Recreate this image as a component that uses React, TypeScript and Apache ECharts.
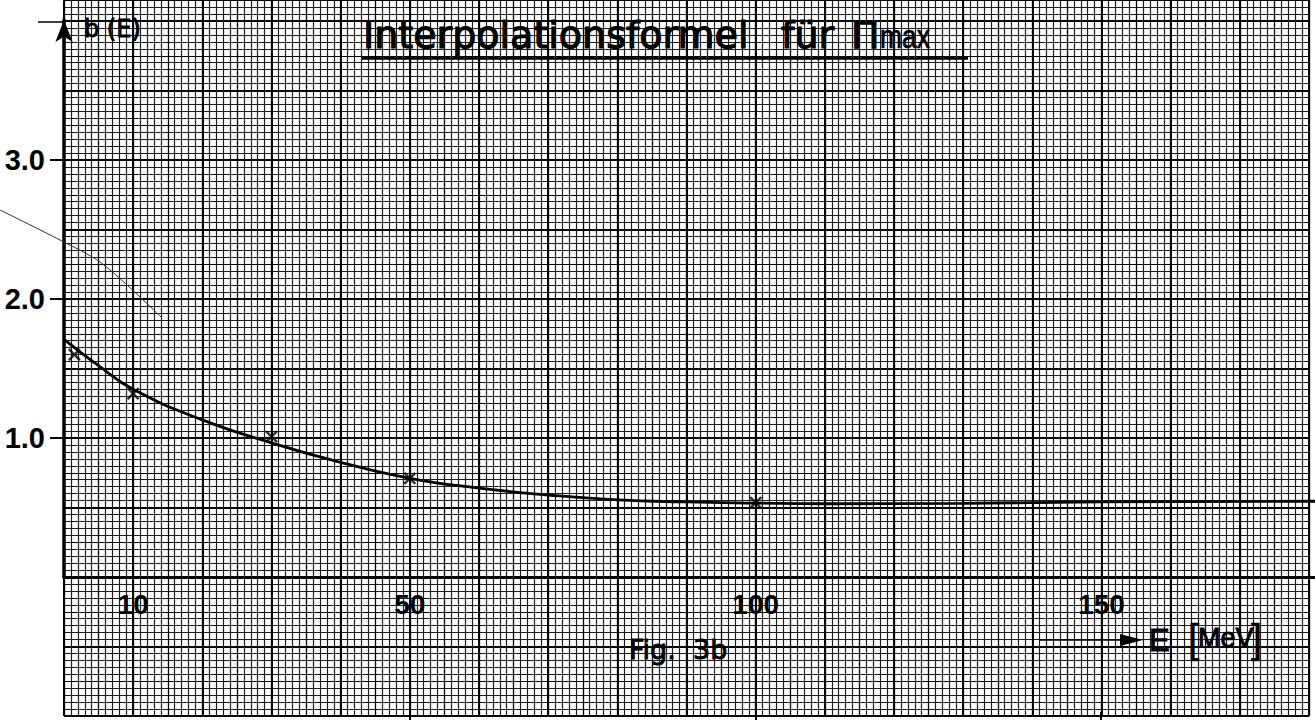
import React, { useEffect, useRef } from "react";
import * as echarts from "echarts";

// ---- data ----
const xTickValues = [10, 50, 100, 150];
const yTickValues = [1, 2, 3];
const pointE = [1.5, 10, 30, 50, 100];
const pointB = [1.6, 1.32, 1.01, 0.71, 0.535];
const curveE = [0, 5, 10, 20, 30, 40, 50, 60, 70, 80, 90, 100, 110, 130, 150, 181];
const curveB = [1.71, 1.52, 1.35, 1.13, 0.965, 0.825, 0.71, 0.64, 0.59, 0.555, 0.54, 0.532, 0.527, 0.53, 0.54, 0.545];

const titleMain = "Interpolationsformel";
const titleFor = "für";
const titlePi = "Π";
const titleSub = "max";
const yName = "b (E)";
const figText = "Fig.  3b";
const xName = "E";
const xUnit = "MeV";

const FONT_NUM = "'Liberation Sans', Arial, sans-serif";
const FONT_LET = "'DejaVu Sans', sans-serif";

function paperAxes(idx: number, interval: number, color: string, width: number) {
  const hidden = {
    axisLine: { show: false },
    axisTick: { show: false },
    axisLabel: { show: false },
  };
  return {
    x: {
      gridIndex: idx,
      type: "value",
      min: 0,
      max: 180,
      interval,
      ...hidden,
      splitLine: { show: true, lineStyle: { color, width } },
    },
    y: {
      gridIndex: idx,
      type: "value",
      min: -20,
      max: 83,
      interval,
      ...hidden,
      splitLine: { show: true, lineStyle: { color, width } },
    },
  };
}

function txt(x: number, y: number, text: string, font: string, size: number, extra: any = {}, thick = 1) {
  return {
    type: "text",
    x,
    y,
    z: 50,
    ...extra,
    style: {
      text,
      fontFamily: font,
      fontSize: size,
      fontWeight: "normal",
      fill: "#000",
      stroke: "#000",
      lineWidth: thick,
      align: "left",
      textAlign: "left",
      verticalAlign: "middle",
      textVerticalAlign: "middle",
    },
  };
}

export default function App() {
  const ref = useRef<HTMLDivElement>(null);
  useEffect(() => {
    if (!ref.current) return;
    const chart = echarts.init(ref.current, null, { renderer: "svg" });
    const p1 = paperAxes(0, 1, "#1e1e1e", 1.2);
    const p5 = paperAxes(1, 5, "#000", 1.15);
    const p10 = paperAxes(2, 10, "#000", 2);
    const paperGrid = { left: 64, top: 0.15, width: 1245.06, height: 715.85 };

    const option: any = {
      animation: false,
      backgroundColor: "#fff",
      grid: [
        { ...paperGrid },
        { ...paperGrid },
        { ...paperGrid },
        { left: 64, top: 20, width: 1251, height: 557 },
      ],
      xAxis: [
        p1.x,
        p5.x,
        p10.x,
        {
          gridIndex: 3,
          type: "value",
          min: 0,
          max: 180.86,
          splitLine: { show: false },
          axisLine: { show: true, onZero: false, lineStyle: { color: "#000", width: 3 } },
          axisTick: {
            show: true,
            customValues: xTickValues,
            length: 14,
            lineStyle: { color: "#000", width: 2 },
          },
          axisLabel: {
            show: true,
            customValues: xTickValues,
            margin: 13,
            fontFamily: FONT_NUM,
            fontWeight: "bold",
            fontSize: 28,
            color: "#000",
          },
        },
      ],
      yAxis: [
        p1.y,
        p5.y,
        p10.y,
        {
          gridIndex: 3,
          type: "value",
          min: 0,
          max: 4.007,
          splitLine: { show: false },
          axisLine: {
            show: true,
            onZero: false,
            symbol: ["none", "arrow"],
            symbolSize: [13, 22],
            lineStyle: { color: "#000", width: 3.5 },
          },
          axisTick: {
            show: true,
            customValues: yTickValues,
            length: 14,
            lineStyle: { color: "#000", width: 2 },
          },
          axisLabel: {
            show: true,
            customValues: yTickValues,
            margin: 19,
            formatter: (v: number) => v.toFixed(1),
            fontFamily: FONT_NUM,
            fontWeight: "bold",
            fontSize: 29,
            color: "#000",
          },
        },
      ],
      series: [
        {
          type: "line",
          xAxisIndex: 3,
          yAxisIndex: 3,
          data: curveE.map((e, i) => [e, curveB[i]]),
          smooth: true,
          showSymbol: false,
          lineStyle: { color: "#000", width: 2.8 },
          z: 10,
        },
        {
          type: "scatter",
          xAxisIndex: 3,
          yAxisIndex: 3,
          data: pointE.map((e, i) => [e, pointB[i]]),
          symbol: "path://M0 0L10 10M10 0L0 10",
          symbolSize: 11,
          itemStyle: { color: "none", borderColor: "#000", borderWidth: 2.5 },
          z: 11,
        },
      ],
      graphic: [
        txt(363, 35, titleMain, FONT_LET, 38, {}, 1.2),
        txt(781, 35, titleFor, FONT_LET, 38, {}, 1.2),
        txt(851, 35, titlePi, FONT_LET, 38, {}, 1.2),
        txt(880, 36, titleSub, FONT_NUM, 33, { scaleX: 0.8 }, 0.7),
        {
          type: "line",
          z: 50,
          shape: { x1: 362, y1: 58, x2: 968, y2: 58 },
          style: { stroke: "#000", lineWidth: 3.5 },
        },
        txt(84, 29, yName, FONT_LET, 24, {}, 0.9),
        {
          type: "line",
          z: 50,
          shape: { x1: 38, y1: 22, x2: 63, y2: 22 },
          style: { stroke: "#000", lineWidth: 1.5 },
        },
        txt(629, 649, figText, FONT_LET, 27, {}, 0.9),
        {
          type: "line",
          z: 50,
          shape: { x1: 1040, y1: 640, x2: 1125, y2: 640 },
          style: { stroke: "#000", lineWidth: 1.5 },
        },
        {
          type: "polygon",
          z: 50,
          shape: { points: [[1120, 634], [1143, 640], [1120, 646]] },
          style: { fill: "#000" },
        },
        txt(1149, 640, xName, FONT_NUM, 31, {}, 0.9),
        txt(1188, 639, "[", FONT_NUM, 40, {}, 0.6),
        txt(1198, 638, xUnit, FONT_NUM, 27, {}, 0.9),
        txt(1251, 639, "]", FONT_NUM, 40, {}, 0.6),
        {
          type: "polyline",
          z: 50,
          shape: {
            points: [[0, 210], [60, 240], [100, 262], [140, 297], [162, 318]],
            smooth: 0.3,
          },
          style: { stroke: "#333", lineWidth: 1, fill: "none" },
        },
        ...[410, 756, 1101].map((x) => ({
          type: "line",
          z: 50,
          shape: { x1: x, y1: 712, x2: x, y2: 720 },
          style: { stroke: "#000", lineWidth: 2 },
        })),
      ],
    };
    chart.setOption(option);
    return () => chart.dispose();
  }, []);
  return (
    <div
      ref={ref}
      style={{ position: "absolute", left: 0, top: 0, width: 1315, height: 720, background: "#fff" }}
    />
  );
}
